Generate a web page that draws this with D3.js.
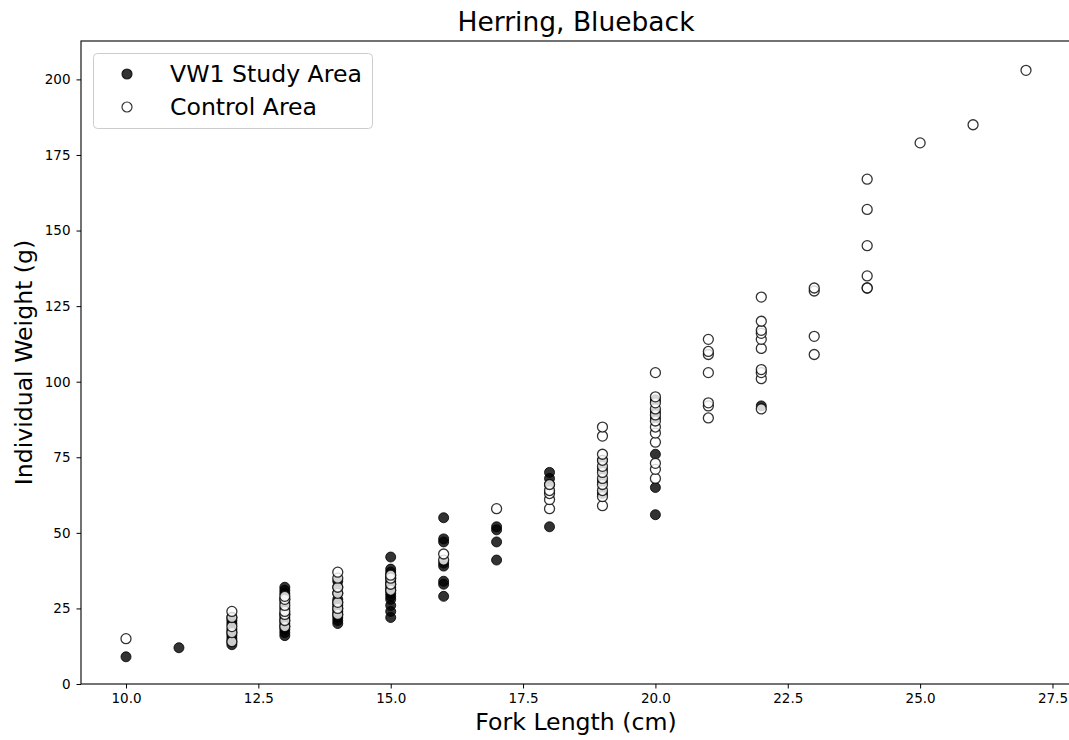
<!DOCTYPE html>
<html>
<head>
<meta charset="utf-8">
<script src="https://cdn.jsdelivr.net/npm/d3@7"></script>
<style>
  html, body { margin: 0; padding: 0; background: #fff; }
  svg { display: block; font-family: "DejaVu Sans", sans-serif; }
</style>
</head>
<body>
<svg id="chart" width="1069" height="740"></svg>
<script>
// Fork length (cm) classes and weights (g) for each sample group
const studyLengths = [10, 11, 12, 13, 14, 15, 16, 17, 18, 19, 20, 22];
const studyWeights = [
  [9],
  [12],
  [13, 14, 15, 16, 17, 18, 20, 21, 22],
  [16, 17, 18, 19, 20, 21, 22, 23, 25, 27, 28, 30, 31, 32],
  [20, 21, 22, 23, 24, 25, 26, 27, 28, 30, 32, 34],
  [22, 24, 26, 28, 29, 30, 31, 32, 33, 34, 35, 36, 37, 38, 42],
  [29, 33, 34, 39, 40, 47, 48, 55],
  [41, 47, 51, 52],
  [52, 66, 68, 70],
  [63, 67, 71, 74],
  [56, 65, 76, 88, 90, 94],
  [92]
];

const controlLengths = [10, 12, 13, 14, 15, 16, 17, 18, 19, 20, 21, 22, 23, 24, 25, 26, 27];
const controlWeights = [
  [15],
  [14, 17, 19, 22, 24],
  [19, 21, 23, 24, 26, 28, 29],
  [23, 25, 27, 30, 32, 35, 37],
  [31, 33, 35, 36],
  [41, 43],
  [58],
  [58, 61, 63, 64, 66],
  [59, 62, 64, 66, 68, 70, 72, 74, 76, 82, 85],
  [68, 71, 73, 80, 83, 85, 87, 89, 91, 93, 95, 103],
  [88, 92, 93, 103, 109, 110, 114],
  [91, 101, 103, 104, 111, 114, 116, 117, 120, 128],
  [109, 115, 130, 131],
  [131, 131, 135, 145, 157, 167],
  [179],
  [185],
  [203]
];

const xTicks = [10.0, 12.5, 15.0, 17.5, 20.0, 22.5, 25.0, 27.5];
const yTicks = [0, 25, 50, 75, 100, 125, 150, 175, 200];

const title = "Herring, Blueback";
const xLabel = "Fork Length (cm)";
const yLabel = "Individual Weight (g)";
const seriesNames = ["VW1 Study Area", "Control Area"];

function flatten(lengths, weights) {
  const out = [];
  lengths.forEach((len, i) => weights[i].forEach(w => out.push({ x: len, y: w })));
  return out;
}
const studyPts = flatten(studyLengths, studyWeights);
const controlPts = flatten(controlLengths, controlWeights);

const svg = d3.select("#chart");
const margin = { left: 81, right: -2, top: 41, bottom: 56 };
const W = 1069, H = 740;

const x = d3.scaleLinear().domain([9.15, 27.85]).range([margin.left, W - margin.right]);
const y = d3.scaleLinear().domain([0, 212.7]).range([H - margin.bottom, margin.top]);

svg.append("defs").append("clipPath").attr("id", "plotclip")
  .append("rect")
  .attr("x", margin.left).attr("y", margin.top)
  .attr("width", x.range()[1] - margin.left)
  .attr("height", y.range()[0] - margin.top);

const plot = svg.append("g").attr("clip-path", "url(#plotclip)");
const r = 5;

plot.selectAll("circle.study").data(studyPts).join("circle")
  .attr("class", "study")
  .attr("cx", d => x(d.x)).attr("cy", d => y(d.y)).attr("r", r)
  .attr("fill", "#000").attr("fill-opacity", 0.8)
  .attr("stroke", "#000").attr("stroke-opacity", 0.8).attr("stroke-width", 1);

plot.selectAll("circle.control").data(controlPts).join("circle")
  .attr("class", "control")
  .attr("cx", d => x(d.x)).attr("cy", d => y(d.y)).attr("r", r)
  .attr("fill", "#fff").attr("fill-opacity", 0.8)
  .attr("stroke", "#000").attr("stroke-opacity", 0.8).attr("stroke-width", 1.3);

// Axes
const xAxis = d3.axisBottom(x).tickValues(xTicks).tickFormat(d3.format(".1f")).tickSizeOuter(0).tickSize(4.5).tickPadding(5);
const yAxis = d3.axisLeft(y).tickValues(yTicks).tickFormat(d3.format("d")).tickSizeOuter(0).tickSize(4.5).tickPadding(6);

const gx = svg.append("g").attr("transform", `translate(0,${y(0)})`).call(xAxis);
const gy = svg.append("g").attr("transform", `translate(${margin.left},0)`).call(yAxis);
[gx, gy].forEach(g => {
  g.select(".domain").remove();
  g.selectAll(".tick line").attr("stroke", "#000").attr("stroke-width", 1);
  g.selectAll(".tick text").attr("fill", "#000").style("font-size", "13.5px")
    .style("font-family", "'DejaVu Sans', sans-serif");
});

// Frame
svg.append("rect")
  .attr("x", margin.left).attr("y", margin.top)
  .attr("width", x.range()[1] - margin.left)
  .attr("height", y(0) - margin.top)
  .attr("fill", "none").attr("stroke", "#000").attr("stroke-width", 1.1);

// Titles
svg.append("text").attr("x", (margin.left + x.range()[1]) / 2).attr("y", 31)
  .attr("text-anchor", "middle").style("font-size", "26.5px").attr("fill", "#000").text(title);
svg.append("text").attr("x", (margin.left + x.range()[1]) / 2).attr("y", 730)
  .attr("text-anchor", "middle").style("font-size", "23.6px").attr("fill", "#000").text(xLabel);
svg.append("text")
  .attr("transform", `translate(32,${(margin.top + y(0)) / 2}) rotate(-90)`)
  .attr("text-anchor", "middle").style("font-size", "23.6px").attr("fill", "#000").text(yLabel);

// Legend
const lg = svg.append("g");
lg.append("rect").attr("x", 93.5).attr("y", 53.5).attr("width", 279).attr("height", 75)
  .attr("rx", 4).attr("fill", "#fff").attr("fill-opacity", 0.8)
  .attr("stroke", "#ccc").attr("stroke-width", 1);
const legendItems = [
  { name: seriesNames[0], fill: "#000", cy: 74 },
  { name: seriesNames[1], fill: "#fff", cy: 107 }
];
legendItems.forEach(it => {
  lg.append("circle").attr("cx", 127).attr("cy", it.cy).attr("r", 5)
    .attr("fill", it.fill).attr("fill-opacity", 0.8)
    .attr("stroke", "#000").attr("stroke-opacity", 0.8).attr("stroke-width", 1.2);
  lg.append("text").attr("x", 170).attr("y", it.cy + 8)
    .style("font-size", "23.6px").attr("fill", "#000").text(it.name);
});
</script>
</body>
</html>
